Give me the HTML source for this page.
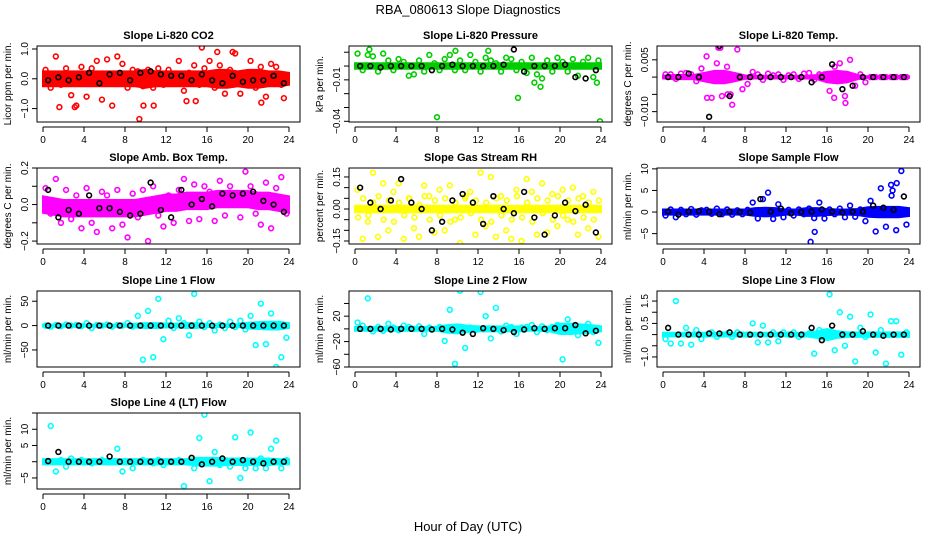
<!DOCTYPE html>
<html><head><meta charset="utf-8"><style>
html,body{margin:0;padding:0;background:#fff;width:936px;height:540px;overflow:hidden}
svg text{font-family:"Liberation Sans",sans-serif}
</style></head><body>
<svg id="c" width="936" height="540" xmlns="http://www.w3.org/2000/svg">
<text x="468" y="14" text-anchor="middle" font-size="13">RBA_080613  Slope Diagnostics</text>
<text x="468" y="531" text-anchor="middle" font-size="13">Hour of Day (UTC)</text>
</svg>
<script>
const hourTicks=[0,4,8,12,16,20,24];
// CO2
const co2Band=[0.25,0.25,0.25,0.25,0.25,0.25,0.25,0.25,0.25,0.25,0.3,0.25,0.25,0.25,0.25,0.25,0.25,0.3,0.3,0.25,0.3,0.3,0.25,0.25,0.2];
const co2Pts=[0.3,-0.3,0.75,-0.2,0.35,-0.55,-0.9,0.4,-0.6,0.35,0.6,-0.7,0.65,-0.9,0.75,0.5,-0.3,0.3,0.25,-0.25,0.3,-0.3,0.35,-0.2,0.3,-0.1,0.6,-0.4,0.2,0.45,-0.2,0.35,0.6,-0.3,0.45,-0.5,0.3,0.85,-0.5,0.2,0.6,-0.3,0.4,-0.6,0.5,0.4,-0.2,-0.1];
const co2OutH=[9.4,15.5,10.8,9.8,14,14.9,21.3,18.5,17,3.1,1.6,23.5];
const co2OutV=[-1.35,1.05,-0.9,-0.9,-0.75,-0.75,-0.8,0.9,0.9,-0.95,-0.95,-0.65];
const co2Black=[-0.05,0.05,-0.05,0.05,0.2,-0.15,0.15,0.2,-0.05,0.2,0.25,0.15,0.1,0.1,-0.05,0.15,-0.05,-0.15,0.1,-0.1,-0.05,-0.05,0.1,-0.15];
// Pressure
const presBand=[0.002,0.002,0.002,0.002,0.002,0.002,0.002,0.002,0.002,0.002,0.002,0.002,0.002,0.002,0.002,0.002,0.002,0.002,0.002,0.002,0.002,0.002,0.002,0.002,0.002];
const presPts=[0.009,-0.003,0.008,0.007,-0.004,0.009,0.004,-0.003,0.005,0.003,-0.007,-0.006,0.004,-0.004,0.008,0.002,-0.003,0.005,0.008,-0.003,0.004,-0.003,0.008,0.003,-0.004,0.006,0.004,0.002,-0.004,0.006,0.005,-0.003,0.003,-0.005,0.006,-0.006,-0.009,0.004,-0.004,0.006,0.003,-0.004,0.005,-0.007,0.003,0.006,-0.008,0.004];
const presOutH=[8,15.9,23.9,1.4,9.8,13,17.5,18.1,23.6];
const presOutV=[-0.037,-0.023,-0.04,0.012,0.011,0.011,-0.012,-0.015,-0.012];
const presBlack=[0,0,-0.001,0,0,0,0,-0.003,0,0.001,0,0,0,0,0.001,0.012,-0.004,0,0,0,0.001,-0.008,-0.009,-0.003];
// Li-820 temp
const tempBand=[0.0004,0.0006,0.0006,0.0006,0.0012,0.0018,0.0018,0.0012,0.0005,0.0004,0.0004,0.0004,0.0004,0.0004,0.0004,0.0006,0.0015,0.0018,0.0015,0.0006,0.0002,0.0002,0.0002,0.0002,0.0002];
const tempPts=[0.0008,0.0008,-0.0005,0.001,0.0012,0.0008,-0.0012,0.0025,0.006,-0.006,0.004,-0.0055,0.003,-0.008,0.008,-0.0035,-0.002,0.0015,0.0008,-0.0008,0.001,0.0005,0.0008,-0.0008,0.0005,0.0008,-0.0005,0.001,0.0012,-0.0008,0.0008,0.0008,-0.004,0.003,0.004,-0.0055,0.005,-0.0025,0.0008,-0.0015,0,0,0,0,0,0,0,0];
const tempOutH=[5.6,5.4,4.3,6.3,6.6,16.7,17.8];
const tempOutV=[0.0085,0.0085,-0.006,-0.005,-0.005,-0.006,-0.0075];
const tempBlack=[0,0,0.001,0,-0.0115,0.009,-0.0055,0,0,0,0,0,0,0,-0.0015,0,0.0037,-0.0035,-0.0025,0,0,0,0,0];
// Amb box temp
const ambCenter=[0,-0.01,-0.02,-0.02,-0.02,-0.02,-0.02,-0.02,-0.02,-0.02,-0.01,0,0.01,0.01,0.02,0.02,0.02,0.03,0.03,0.03,0.03,0.02,0.02,0.01,0];
const ambBand=[0.045,0.045,0.045,0.045,0.045,0.045,0.045,0.045,0.045,0.045,0.045,0.045,0.045,0.045,0.045,0.045,0.045,0.045,0.045,0.045,0.045,0.045,0.045,0.045,0.045];
const ambPts=[0.09,-0.05,0.14,-0.1,0.08,-0.08,0.05,-0.13,0.09,-0.1,-0.15,0.07,0.05,-0.13,0.08,-0.11,-0.18,0.06,-0.07,0.08,-0.2,0.1,-0.06,-0.12,0.05,-0.1,0.08,0.14,-0.09,0.11,-0.08,0.1,0.07,-0.09,0.13,-0.06,0.1,0.06,-0.07,0.18,0.1,-0.05,-0.11,0.12,-0.13,0.09,0.15,-0.05];
const ambBlack=[0.08,-0.07,-0.03,-0.05,0.05,-0.02,-0.02,-0.04,-0.06,-0.05,0.12,-0.03,-0.07,0.08,0,0.03,-0.01,0.06,0.05,0.06,0.07,0.02,0,-0.04];
// RH
const rhBand=[0.015,0.015,0.015,0.015,0.015,0.015,0.015,0.015,0.015,0.015,0.015,0.015,0.015,0.015,0.015,0.015,0.015,0.015,0.015,0.015,0.015,0.015,0.015,0.015,0.015];
const rhPts=[0.09,-0.14,-0.06,0.17,-0.13,0.12,-0.1,0.08,0.12,-0.14,0.05,-0.09,-0.13,0.11,0.06,-0.11,0.09,-0.1,0.11,-0.05,-0.16,0.05,0.08,-0.12,0.17,-0.08,0.15,-0.13,0.06,-0.1,-0.14,0.09,-0.15,0.14,0.08,-0.12,0.12,-0.11,0.07,-0.08,0.09,-0.05,0.1,-0.12,0.06,-0.09,0.08,-0.13];
const rhOutH=[0.3,0.8,1.3,1.8,2.3,2.8,3.3,3.8,4.3,4.8,5.3,5.8,6.3,6.8,7.3,7.8,8.3,8.8,9.3,9.8,10.3,10.8,11.3,11.8,12.3,12.8,13.3,13.8,14.3,14.8,15.3,15.8,16.3,16.8,17.3,17.8,18.3,18.8,19.3,19.8,20.3,20.8,21.3,21.8,22.3,22.8,23.3,23.8];
const rhOutV=[-0.04,0.05,-0.03,0.03,0.06,-0.05,0.04,-0.06,0.03,-0.03,0.05,-0.04,0.02,0.06,-0.05,0.04,-0.03,0.05,-0.06,0.03,-0.04,0.06,-0.02,0.04,-0.05,0.03,-0.06,0.05,-0.03,0.04,-0.05,0.06,-0.04,0.03,-0.06,0.05,-0.02,0.04,-0.05,0.06,-0.03,0.04,-0.06,0.05,-0.04,0.03,-0.05,0.04];
const rhBlack=[0.1,0.03,0,0.04,0.14,0.03,0,-0.1,-0.06,0.04,0.07,0.03,-0.07,0.06,0,-0.02,0.08,-0.04,-0.12,-0.03,0.03,-0.01,0.02,-0.11];
// Sample flow
const sfBand=[0.6,0.6,0.6,0.6,0.6,0.6,0.6,0.6,0.6,0.9,1,0.9,0.6,0.6,0.9,0.9,0.7,0.6,0.6,0.7,1.1,1.2,1.2,1.2,0.9];
const sfPts=[-0.8,0.6,-1.2,0.5,-0.5,0.7,-0.6,0.4,0.5,-0.4,0.8,-0.5,0.6,-0.6,0.4,-0.5,0.5,2.2,-1.5,3,4.5,-1.6,1.8,-1.2,0.5,-0.8,0.6,-0.5,0.8,-1.4,2.2,-1.5,0.6,-0.5,0.8,-1.2,1.5,-1.1,0.6,-2.1,2.6,-4.5,5.5,-3.4,6.3,-4.2,9.5,-2.9];
const sfOutH=[14.4,14.8,22.4,22.8,22.3];
const sfOutV=[-6.9,-4.6,5,6.7,3.8];
const sfBlack=[0.1,-0.6,0.1,0.2,0.1,-0.5,0.1,0,-0.1,3,0.1,0.8,-0.3,0,0.1,0.6,0.1,-0.1,0.1,0.1,1.5,1,0.5,3.6];
// Line 1
const l1Band=[2,2,2,2,2,2,2,2,2,4,5,5,4,4,5,5,3,3,3,3,6,7,8,8,5];
const l1Pts=[0,-2,1,-1,2,0,1,-1,5,-5,1,0,2,-2,1,0,5,-2,20,-70,30,-65,55,-28,10,-5,15,5,-20,65,8,-3,5,-10,2,-5,8,-3,10,-8,20,-40,45,-38,25,-85,-65,-25];
const l1Black=[0,0,0,0,0,0,0,0,0,0,0,0,0,0,0,0,0,0,0,0,0,0,0,0];
// Line 2
const l2Band=[3,3,3,3,3,3,3,3,3,6,7,5,4,4,4,4,4,3,3,4,8,8,7,6,4];
const l2Pts=[10,5,48,-4,3,-3,8,2,-2,5,3,0,4,-8,2,0,3,-19,30,-55,60,-30,2,-2,58,20,-15,33,-4,5,3,-8,2,3,6,-5,4,-2,3,6,-48,15,5,-10,2,8,-5,-22];
const l2Black=[0,0,0,-1,0,0,0,-1,0,-1,-6,-8,1,0,-2,-5,-1,1,0,1,1,6,-7,-3];
// Line 3
const l3Band=[0.08,0.08,0.08,0.08,0.08,0.08,0.08,0.08,0.08,0.08,0.08,0.08,0.08,0.08,0.08,0.15,0.25,0.15,0.1,0.1,0.1,0.1,0.1,0.1,0.1];
const l3Pts=[-0.2,-0.4,1.5,-0.4,0.3,-0.45,0.2,-0.2,0,0.1,-0.1,0,0.05,-0.1,0.1,0,0,0.5,-0.35,0.4,-0.35,0.1,-0.3,0.1,0,0.1,-0.1,0,0.05,-0.85,0.2,-0.1,1.8,-0.7,1,-0.5,0.8,-1.2,0.3,-0.1,0.9,-0.8,0.2,-1.3,0.6,0.6,-0.9,0.1];
const l3Black=[0.3,0,0,0,0.05,0.05,0.1,0,0,0,0,0,0,0,0.3,-0.25,0.4,0,0,0.15,0,-0.05,0,0];
// Line 4
const l4Band=[0.8,0.8,0.8,0.8,0.8,0.8,0.8,0.8,0.8,0.8,0.8,0.8,0.8,0.8,0.8,1.2,1.2,1.2,1,1,1,1,1,0.8,0.8];
const l4Pts=[0,11,-3,0.5,-1.5,1,0,0.5,0,-0.5,0,0.5,0,0,4,-3,0,-2,0,0.5,0,-0.5,0.5,-1,0,0,0.5,-7.5,0,-2,7.3,14.5,-6,3,-1,0.5,-1.5,7.5,-5,-2,9,-2,1,-2,4,6.5,-2,0.5];
const l4Black=[0.2,3,0,0,0,0,1.6,0,0,0,0,0,0,0,1.2,-0.8,0,1,0,0.5,0,-0.5,0,0];

const panels=[
 {col:0,row:0,title:"Slope Li-820 CO2",ylab:"Licor ppm per min.",ymin:-1.45,ymax:1.1,ticks:[-1,0,1],labs:["\u22121.0","0.0","1.0"],color:"#ff0000",band:co2Band,pts:co2Pts,outH:co2OutH,outV:co2OutV,black:co2Black},
 {col:1,row:0,title:"Slope Li-820 Pressure",ylab:"kPa per min.",ymin:-0.0405,ymax:0.0145,ticks:[-0.04,-0.03,-0.02,-0.01,0,0.01],labs:["\u22120.04","","","\u22120.01","",""],color:"#00cd00",band:presBand,pts:presPts,outH:presOutH,outV:presOutV,black:presBlack},
 {col:2,row:0,title:"Slope Li-820 Temp.",ylab:"degrees C per min.",ymin:-0.013,ymax:0.009,ticks:[-0.01,-0.005,0,0.005],labs:["\u22120.010","","","0.005"],color:"#ff00ff",band:tempBand,pts:tempPts,outH:tempOutH,outV:tempOutV,black:tempBlack},
 {col:0,row:1,title:"Slope Amb. Box Temp.",ylab:"degrees C per min.",ymin:-0.216,ymax:0.2,ticks:[-0.2,-0.1,0,0.1,0.2],labs:["\u22120.2","","0.0","","0.2"],color:"#ff00ff",band:ambBand,center:ambCenter,pts:ambPts,outH:[],outV:[],black:ambBlack},
 {col:1,row:1,title:"Slope Gas Stream RH",ylab:"percent per min.",ymin:-0.164,ymax:0.192,ticks:[-0.15,-0.1,-0.05,0,0.05,0.1,0.15],labs:["\u22120.15","","","0.00","","","0.15"],color:"#ffff00",band:rhBand,pts:rhPts,outH:rhOutH,outV:rhOutV,black:rhBlack},
 {col:2,row:1,title:"Slope Sample Flow",ylab:"ml/min per min.",ymin:-7.4,ymax:10.2,ticks:[-5,0,5,10],labs:["\u22125","0","5","10"],color:"#0000ff",band:sfBand,pts:sfPts,outH:sfOutH,outV:sfOutV,black:sfBlack},
 {col:0,row:2,title:"Slope Line 1 Flow",ylab:"ml/min per min.",ymin:-85,ymax:71,ticks:[-50,0,50],labs:["\u221250","0","50"],color:"#00ffff",band:l1Band,pts:l1Pts,outH:[],outV:[],black:l1Black},
 {col:1,row:2,title:"Slope Line 2 Flow",ylab:"ml/min per min.",ymin:-60,ymax:59.6,ticks:[-60,-40,-20,0,20,40],labs:["\u221260","","\u221220","","20",""],color:"#00ffff",band:l2Band,pts:l2Pts,outH:[],outV:[],black:l2Black},
 {col:2,row:2,title:"Slope Line 3 Flow",ylab:"ml/min per min.",ymin:-1.45,ymax:1.95,ticks:[-1,-0.5,0,0.5,1,1.5],labs:["\u22121.0","","","0.5","","1.5"],color:"#00ffff",band:l3Band,pts:l3Pts,outH:[],outV:[],black:l3Black},
 {col:0,row:3,title:"Slope Line 4 (LT) Flow",ylab:"ml/min per min.",ymin:-8.4,ymax:15,ticks:[-5,0,5,10,15],labs:["\u22125","","5","10",""],color:"#00ffff",band:l4Band,pts:l4Pts,outH:[],outV:[],black:l4Black}
];
const NS="http://www.w3.org/2000/svg";
const svg=document.getElementById('c');
function mk(tag,attrs,parent){const e=document.createElementNS(NS,tag);for(const k in attrs)e.setAttribute(k,attrs[k]);(parent||svg).appendChild(e);return e;}
const colLeft=[37,349,657], rowTop=[46,168,291,413], W=263, H=76;
panels.forEach((p,pi)=>{
  const L=colLeft[p.col], T=rowTop[p.row], B=T+H, R=L+W;
  const xs=h=>L+6+h*(W-17)/24;
  const ys=v=>B-(v-p.ymin)/(p.ymax-p.ymin)*H;
  const g=mk('g',{});
  
  
  const cp=mk('clipPath',{id:'cp'+pi},g); mk('rect',{x:L,y:T,width:W,height:H},cp);
  const t=mk('text',{x:L+W/2,y:T-7,'text-anchor':'middle','font-size':11,'font-weight':'bold'},g); t.textContent=p.title;
   
  const yl=mk('text',{x:0,y:0,'text-anchor':'middle','font-size':10,transform:`translate(${L-26},${T+H/2}) rotate(-90)`},g); yl.textContent=p.ylab;
   
  const pg=mk('g',{'clip-path':`url(#cp${pi})`},g);
  let d='';
  for(let i=0;i<=24;i++){const c=p.center?p.center[i]:0;d+=(i?'L':'M')+xs(i)+','+ys(c+p.band[i]);}
  for(let i=24;i>=0;i--){const c=p.center?p.center[i]:0;d+='L'+xs(i)+','+ys(c-p.band[i]);}
  const band=mk('path',{d:d+'Z',fill:p.color,stroke:p.color,'stroke-width':2},pg);
   
  p.pts.forEach((v,i)=>{const c=mk('circle',{cx:xs((i+0.5)/2),cy:ys(v),r:2.4,fill:'none',stroke:p.color,'stroke-width':1.6},pg);
     });
  p.outH.forEach((h,i)=>{const c=mk('circle',{cx:xs(h),cy:ys(p.outV[i]),r:2.4,fill:'none',stroke:p.color,'stroke-width':1.6},pg);
     });
  p.black.forEach((v,i)=>{const c=mk('circle',{cx:xs(i+0.5),cy:ys(v),r:2.4,fill:'none',stroke:'#000','stroke-width':1.6},pg);
     });
  const box=mk('rect',{x:L,y:T,width:W,height:H,fill:'none',stroke:'#000','stroke-width':1},g);
   
  p.ticks.forEach((v,i)=>{const y=ys(v);mk('line',{x1:L-5,x2:L,y1:y,y2:y,stroke:'#000'},g);
    if(p.labs[i]){const tl=mk('text',{x:0,y:0,'text-anchor':'middle','font-size':10,transform:`translate(${L-9},${y}) rotate(-90)`},g);tl.textContent=p.labs[i];
       }});
  mk('line',{x1:xs(0),x2:xs(24),y1:B+5,y2:B+5,stroke:'#000'},g);
  hourTicks.forEach(h=>{const x=xs(h);mk('line',{x1:x,x2:x,y1:B+5,y2:B+10,stroke:'#000'},g);
    const tl=mk('text',{x:x,y:B+21,'text-anchor':'middle','font-size':10},g);tl.textContent=h;
     });
});
</script>
</body></html>
